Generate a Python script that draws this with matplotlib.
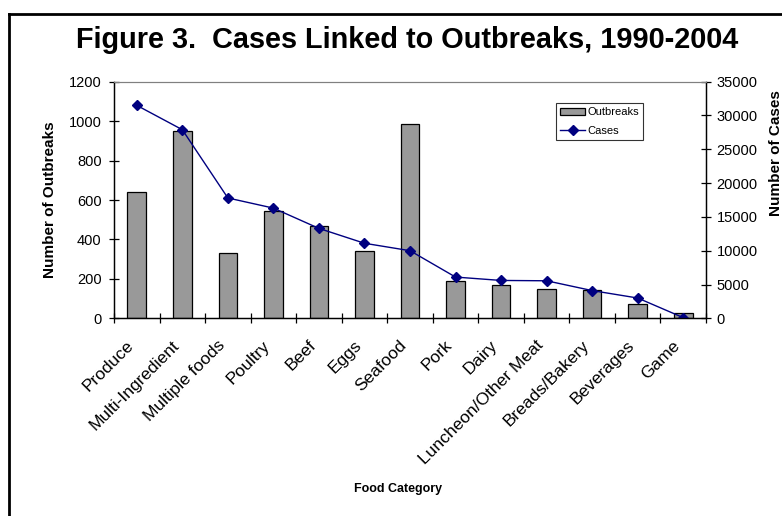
import matplotlib
matplotlib.use("Agg")
import matplotlib.pyplot as plt
from matplotlib.lines import Line2D
import matplotlib.transforms as mtransforms
import numpy as np

plt.rcParams['font.family'] = ['Liberation Sans', 'DejaVu Sans']

categories = ["Produce", "Multi-Ingredient", "Multiple foods", "Poultry", "Beef", "Eggs",
              "Seafood", "Pork", "Dairy", "Luncheon/Other Meat", "Breads/Bakery",
              "Beverages", "Game"]
outbreaks = [640, 948, 333, 542, 468, 341, 986, 188, 167, 149, 142, 72, 25]
cases = [31500, 27900, 17800, 16300, 13300, 11100, 10000, 6100, 5600, 5550, 4100, 3000, 100]

fig = plt.figure(figsize=(7.82, 5.16), dpi=100)
ax = fig.add_axes([114/782, 1-318.3/516, (706-114)/782, (318.3-81.7)/516])
ax2 = ax.twinx()

x = np.arange(len(categories))
ax.bar(x, outbreaks, width=0.41, color="#999999", edgecolor="black", linewidth=0.9,
       label="Outbreaks", zorder=2)
ax2.plot(x, cases, color="#000080", marker="D", markersize=5.5, linewidth=1.0,
         label="Cases")

ax.set_xlim(-0.5, len(categories)-0.5)
ax.set_ylim(0, 1200)
ax2.set_ylim(0, 35000)
ax.set_yticks(np.arange(0, 1201, 200))
ax2.set_yticks(np.arange(0, 35001, 5000))

ax.set_xticks(x)
ax.set_xticklabels(categories, rotation=45, ha="right", rotation_mode="anchor", fontsize=12.5)
ax.tick_params(axis="x", which="major", length=0, pad=6)
offset = mtransforms.ScaledTranslation(-11/100, -11/100, fig.dpi_scale_trans)
for lbl in ax.get_xticklabels():
    lbl.set_transform(lbl.get_transform() + offset)
ax.set_xticks(np.arange(-0.5, len(categories), 1), minor=True)
ax.tick_params(axis="x", which="minor", direction="inout", length=7, width=0.9)
ax.tick_params(axis="y", direction="inout", length=7, width=0.9, labelsize=10.5, pad=5.5)
ax2.tick_params(axis="y", direction="inout", length=7, width=0.9, labelsize=10.5, pad=4)

for a in (ax, ax2):
    a.spines["top"].set_color("#808080")
    a.spines["left"].set_linewidth(0.9)
    a.spines["right"].set_linewidth(0.9)
    a.spines["bottom"].set_linewidth(0.9)

ax.set_ylabel("Number of Outbreaks", fontsize=11, fontweight="bold", va="center")
ax.yaxis.set_label_coords((50-114)/592, 0.5)
ax2.set_ylabel("Number of Cases", fontsize=11, fontweight="bold", va="center")
ax2.yaxis.set_label_coords((776-114)/592, 0.7)
ax.set_xlabel("Food Category", fontsize=9, fontweight="bold")
ax.xaxis.set_label_coords(0.48, -0.695)

fig.text(0.52, 1-40/516, "Figure 3.  Cases Linked to Outbreaks, 1990-2004",
         ha="center", va="center", fontsize=20.8, fontweight="bold")

h1, l1 = ax.get_legend_handles_labels()
h2, l2 = ax2.get_legend_handles_labels()
leg = ax2.legend(h1+h2, l1+l2, loc="upper left", bbox_to_anchor=((556-114)/592, 1-(103-81.7)/236.6),
                 fontsize=8, frameon=True, fancybox=False, edgecolor="black",
                 handlelength=2.2, handleheight=0.5, borderpad=0.4, labelspacing=0.75,
                 handletextpad=0.2, borderaxespad=0)
leg.get_frame().set_linewidth(0.8)

fig.add_artist(Line2D([9/782, 9/782], [0, 1-14/516], color="black", linewidth=2,
                      transform=fig.transFigure))
fig.add_artist(Line2D([9/782, 1], [1-14/516, 1-14/516], color="black", linewidth=2,
                      transform=fig.transFigure))

fig.savefig("out.png", dpi=100)
